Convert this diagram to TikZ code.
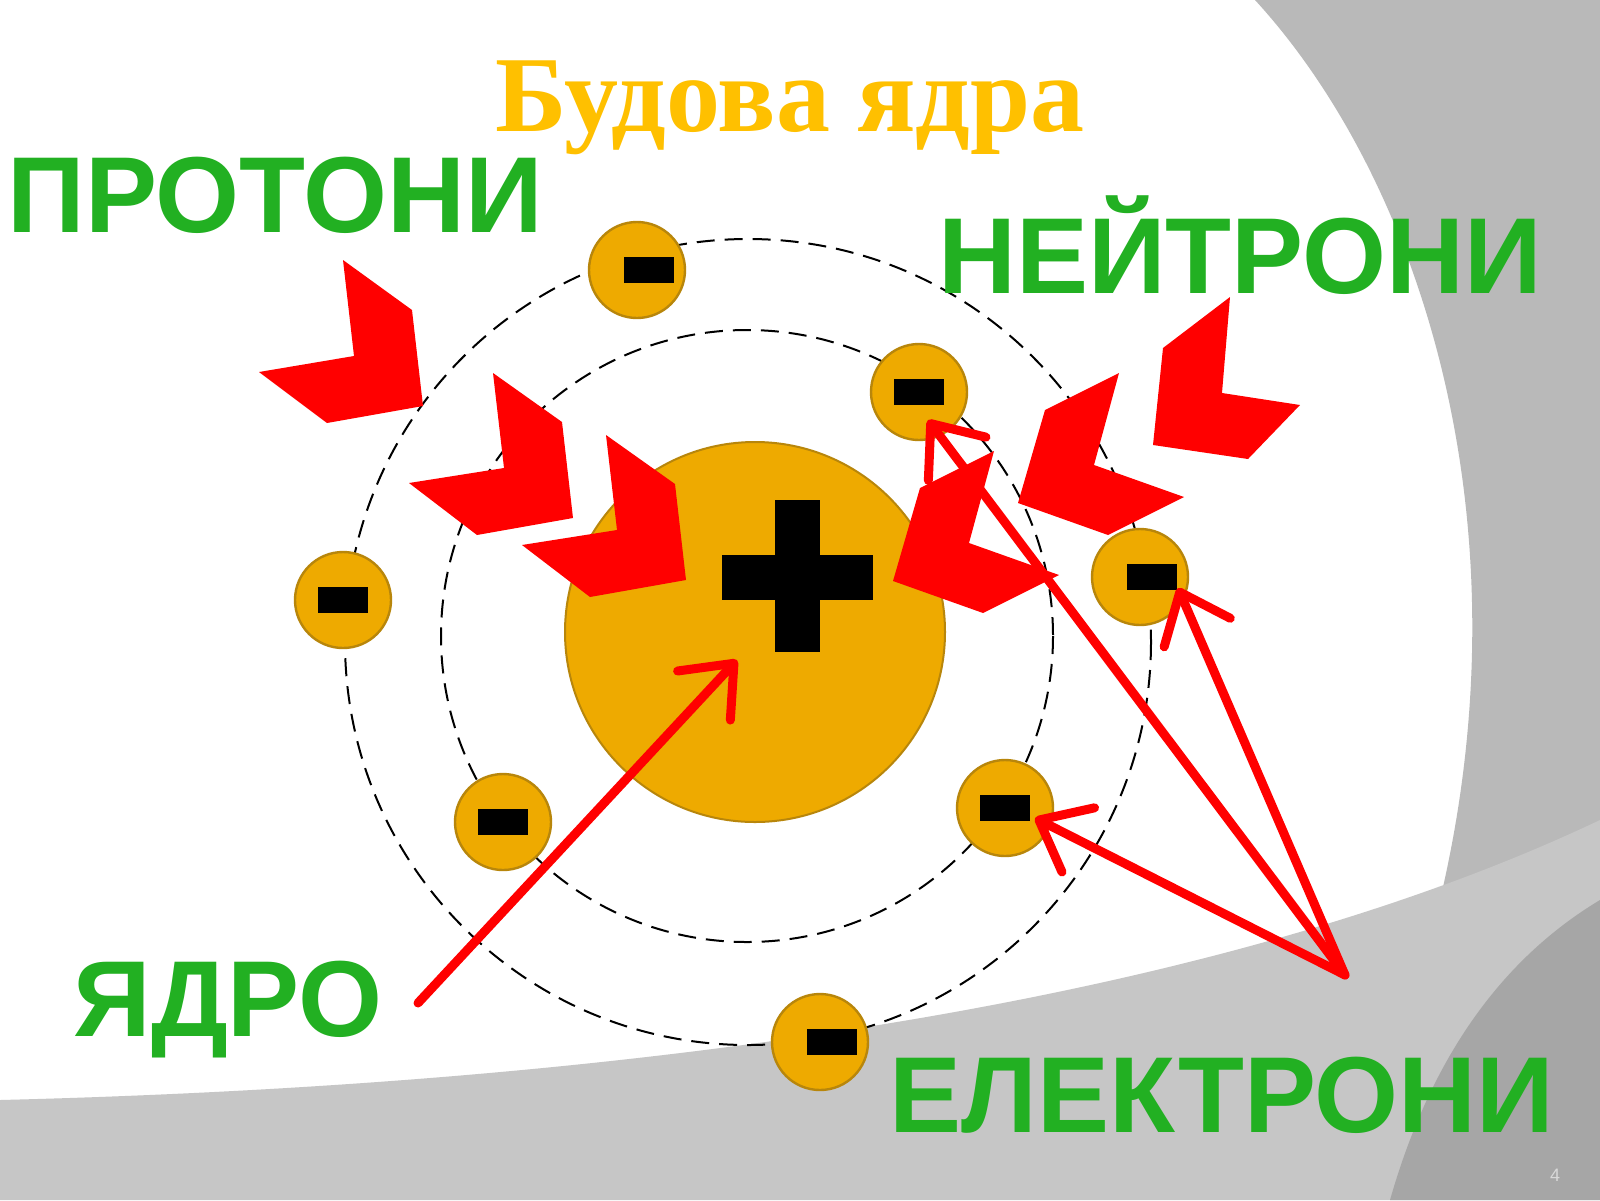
\documentclass[tikz,border=0pt]{standalone}
\usepackage{fontspec}
\setmainfont{Liberation Serif}
\newfontfamily\lab{Liberation Sans}
\usetikzlibrary{arrows.meta}
\definecolor{gold}{HTML}{EEAA00}
\definecolor{goldb}{HTML}{B8860B}
\definecolor{titlec}{HTML}{FFC000}
\definecolor{grn}{HTML}{22B022}
\definecolor{chev}{HTML}{FF0000}
\tikzset{
 elec/.style={circle,fill=gold,draw=goldb,line width=1.2pt,minimum size=48pt,inner sep=0pt},
 minus/.style={fill=black,minimum width=25pt,minimum height=13pt,inner sep=0pt},
 orbit/.style={line width=1pt,dash pattern=on 9pt off 5pt},
 glabel/.style={text=grn,font=\lab\bfseries\fontsize{54}{54}\selectfont,inner sep=0pt},
 redarr/.style={chev,line width=4.5pt,line cap=round,-{Straight Barb[length=22pt,width=36pt,line width=4.5pt,round]}},
 chevron/.style={fill=chev}
}
\begin{document}
\begin{tikzpicture}[x=0.5pt,y=-0.5pt]
\useasboundingbox (0,0) rectangle (1600,1200);
\fill[white] (0,0) rectangle (1600,1200);
% background
\fill[gray!55] (1255,0) .. controls (1420,180) and (1530,520) .. (1440,900) -- (1600,900) -- (1600,0) -- cycle;
\fill[gray!45] (0,1100) .. controls (600,1085) and (1200,1010) .. (1600,820) -- (1600,1200) -- (0,1200) -- cycle;
\fill[gray!70] (1390,1200) .. controls (1430,1060) and (1500,960) .. (1600,900) -- (1600,1200) -- cycle;
% title
\node[text=titlec,font=\bfseries\fontsize{54}{54}\selectfont] (title) at (790,108) {Будова ядра};
% orbits
\draw[orbit] (748,642) circle[radius=403];
\draw[orbit] (747,636) circle[radius=306];
% nucleus
\node[circle,fill=gold,draw=goldb,line width=1pt,minimum size=190pt,inner sep=0pt] (nuc) at (755,632) {};
\fill[black] (775,500) rectangle (820,652);
\fill[black] (722,555) rectangle (873,600);
% electrons
\foreach \n/\x/\y/\dx in {e1/637/270/12,e2/919/392/0,e3/1140/577/12,e4/343/600/0,e5/503/822/0,e6/1005/808/0,e7/820/1042/12}{
 \node[elec] (\n) at (\x,\y) {};
 \node[minus] at (\x+\dx,\y) {};
}
% proton chevrons
\fill[chevron] (343,260) -- (412,310) -- (423,406) -- (327,423) -- (259,372) -- (354,356) -- cycle;
\fill[chevron] (493,373) -- (562,422) -- (573,518) -- (477,535) -- (409,483) -- (504,468) -- cycle;
\fill[chevron] (606,435) -- (675,484) -- (686,580) -- (590,597) -- (522,545) -- (617,530) -- cycle;
% neutron chevrons
\fill[chevron] (1230,297) -- (1222,393) -- (1300,405) -- (1248,459) -- (1153,445) -- (1163,348) -- cycle;
\fill[chevron] (1119,373) -- (1094,465) -- (1184,497) -- (1108,535) -- (1018,503) -- (1045,410) -- cycle;
\fill[chevron] (994,451) -- (969,543) -- (1059,575) -- (983,613) -- (893,581) -- (920,488) -- cycle;
% labels
\node[glabel] (prot) at (275,195) {ПРОТОНИ};
\node[glabel] (neut) at (1240,245) {НЕЙТРОНИ};
\node[glabel] (yadro) at (228,1010) {ЯДРО};
\node[glabel] (elek) at (1222,1095) {ЕЛЕКТРОНИ};
\node[text=gray!30,font=\lab\fontsize{9}{9}\selectfont] (pg) at (1555,1175) {4};
% arrows
\coordinate (ys) at (418,1003);
\coordinate (es) at (1345,975);
\draw[redarr] (ys) -- (737,660);
\draw[redarr] (es) -- (928,420);
\draw[redarr] (es) -- (1178,588);
\draw[redarr] (es) -- (1035,818);
\end{tikzpicture}
\end{document}
